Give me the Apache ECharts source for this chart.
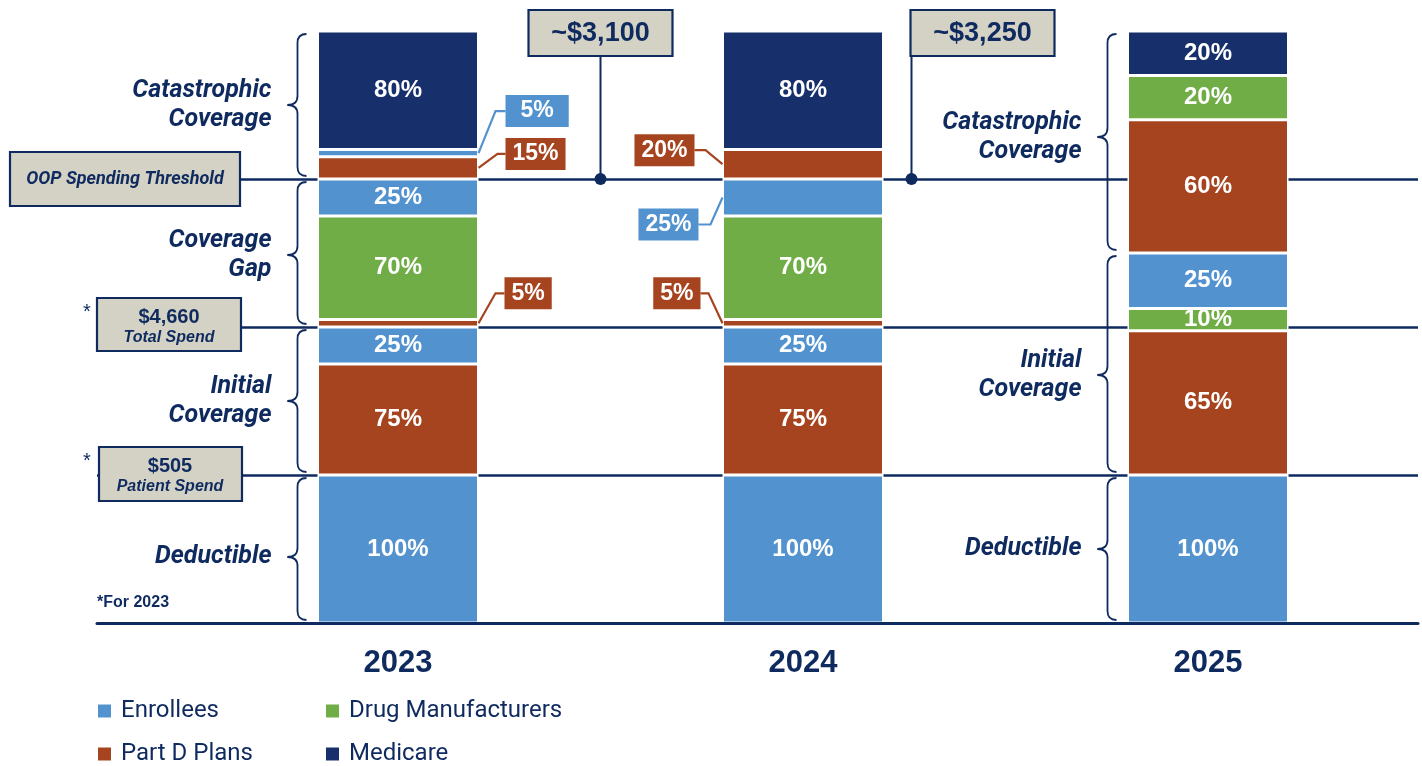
<!DOCTYPE html>
<html><head><meta charset="utf-8">
<script src="https://cdn.jsdelivr.net/npm/echarts@6/dist/echarts.min.js"></script>
<style>html,body{margin:0;padding:0;background:#fff}#chart{width:1422px;height:766px}</style>
</head><body><div id="chart"></div>
<script>
// ---------------- data ----------------
const years = ['2023', '2024', '2025'];
const payers = ['Enrollees', 'Drug Manufacturers', 'Part D Plans', 'Medicare'];
const phases = ['Deductible', 'Initial Coverage', 'Coverage Gap', 'Catastrophic Coverage'];

// segments listed bottom -> top
const payer2023 = ['Enrollees', 'Part D Plans', 'Enrollees', 'Part D Plans', 'Drug Manufacturers', 'Enrollees', 'Part D Plans', 'Enrollees', 'Medicare'];
const share2023 = [100, 75, 25, 5, 70, 25, 15, 5, 80];
const phase2023 = ['Deductible', 'Initial Coverage', 'Initial Coverage', 'Coverage Gap', 'Coverage Gap', 'Coverage Gap', 'Catastrophic Coverage', 'Catastrophic Coverage', 'Catastrophic Coverage'];

const payer2024 = ['Enrollees', 'Part D Plans', 'Enrollees', 'Part D Plans', 'Drug Manufacturers', 'Enrollees', 'Part D Plans', 'Medicare'];
const share2024 = [100, 75, 25, 5, 70, 25, 20, 80];
const phase2024 = ['Deductible', 'Initial Coverage', 'Initial Coverage', 'Coverage Gap', 'Coverage Gap', 'Coverage Gap', 'Catastrophic Coverage', 'Catastrophic Coverage'];

const payer2025 = ['Enrollees', 'Part D Plans', 'Drug Manufacturers', 'Enrollees', 'Part D Plans', 'Drug Manufacturers', 'Medicare'];
const share2025 = [100, 65, 10, 25, 60, 20, 20];
const phase2025 = ['Deductible', 'Initial Coverage', 'Initial Coverage', 'Initial Coverage', 'Catastrophic Coverage', 'Catastrophic Coverage', 'Catastrophic Coverage'];

// relative drawn height of each phase (order of `phases`; Deductible = 1)
const phaseSpan2023 = [1, 1, 1, 1];
const phaseSpan2024 = [1, 1, 1, 1];
const phaseSpan2025 = [1, 1.5, 0, 1.5];

const thresholdNotes = ['~$3,100', '~$3,250'];
const thresholdLabel = 'OOP Spending Threshold';
const totalSpendNote = ['$4,660', 'Total Spend'];
const patientSpendNote = ['$505', 'Patient Spend'];
const footNote = '*For 2023';

// ---------------- styles ----------------
const NAVY = '#0E2A5F';
const BOX_FILL = '#D4D2C5';
const payerColor = {
  'Enrollees': '#5293CF',
  'Drug Manufacturers': '#71AD47',
  'Part D Plans': '#A6441F',
  'Medicare': '#172F6B'
};
const BAR_W = 161;
const X_MIN = 0.25679, X_MAX = 3.51852;
const NUM_FONT = '"Liberation Sans", Arial, sans-serif';
const TXT_FONT = 'Roboto, "Noto Sans", sans-serif';

// callout labels (key: yearIndex-segmentIndex)
const callouts = {
  '0-7': { side: 'right', gap: 27, dy: -42, bend: 17, padding: [5, 15, 4, 15] },
  '0-6': { side: 'right', gap: 27, dy: -14, bend: 19 },
  '0-3': { side: 'right', gap: 26, dy: -30, bend: 17 },
  '1-6': { side: 'left', gap: 28, dy: -14, bend: 17 },
  '1-5': { side: 'left', gap: 24, dy: 27, bend: 12 },
  '1-3': { side: 'left', gap: 22, dy: -30, bend: 14 }
};
const showBraces = [true, false, true];
const phaseNudge = [[8, 0, 2, 0], null, [0, 11, 0, -5]];
const legendPos = { 'Enrollees': [98, 699], 'Drug Manufacturers': [326, 699], 'Part D Plans': [98, 742], 'Medicare': [326, 742] };

const yearSegs = [
  { payer: payer2023, share: share2023, phase: phase2023, span: phaseSpan2023 },
  { payer: payer2024, share: share2024, phase: phase2024, span: phaseSpan2024 },
  { payer: payer2025, share: share2025, phase: phase2025, span: phaseSpan2025 }
];
function segValue(s, k) { return s.share[k] * s.span[phases.indexOf(s.phase[k])]; }
const nLayers = Math.max(...yearSegs.map(s => s.share.length));

const series = [];
for (let k = 0; k < nLayers; k++) {
  series.push({
    type: 'bar', stack: 'total', barWidth: BAR_W, z: 2, silent: true,
    encode: { x: 1, y: 0 },
    itemStyle: { borderColor: '#fff', borderWidth: 1.5 },
    label: {
      show: true, position: 'inside', color: '#fff', fontFamily: NUM_FONT,
      fontWeight: 'bold', fontSize: 24, formatter: p => p.data.share + '%'
    },
    labelLayout: p => {
      const co = callouts[p.dataIndex + '-' + k];
      if (!co) return {};
      const r = p.rect;
      const cy = r.y + r.height / 2 + co.dy;
      return co.side === 'right'
        ? { x: r.x + r.width + co.gap, y: cy, align: 'left', verticalAlign: 'middle' }
        : { x: r.x - co.gap, y: cy, align: 'right', verticalAlign: 'middle' };
    },
    data: yearSegs.map((s, i) => {
      if (k >= s.share.length) return { value: ['-', i + 1] };
      const col = payerColor[s.payer[k]];
      const item = { value: [segValue(s, k), i + 1], share: s.share[k], itemStyle: { color: col } };
      const co = callouts[i + '-' + k];
      if (co) {
        item.label = {
          position: co.side, backgroundColor: col, padding: co.padding || [5, 7, 4, 7], fontSize: 23,
          borderColor: 'rgba(255,255,255,0.6)', borderWidth: 1
        };
      }
      return item;
    })
  });
}
// legend carriers
payers.forEach(n => series.push({ type: 'bar', name: n, stack: 'total', barWidth: BAR_W, encode: { x: 1, y: 0 }, data: [], itemStyle: { color: payerColor[n] } }));

// phase boundary lines (from 2023 phases)
const boundaries = [];
{ let acc = 0; phaseSpan2023.forEach((sp, j) => { acc += 100 * sp; if (j < phases.length - 1) boundaries.push(acc); }); }
series.push({
  type: 'line', data: [], z: 1, silent: true,
  markLine: {
    z: 1, silent: true, symbol: ['none', 'none'], label: { show: false },
    lineStyle: { color: NAVY, width: 2.5, type: 'solid' },
    emphasis: { disabled: true },
    data: boundaries.map(v => ({ yAxis: v }))
  }
});

const legends = payers.map(n => ({
  data: [n], left: legendPos[n][0], top: legendPos[n][1], padding: 0, icon: 'rect', itemWidth: 13, itemHeight: 13,
  selectedMode: false, textStyle: { fontFamily: TXT_FONT, fontSize: 24, color: NAVY, padding: [0, 0, 0, 5] }
}));

const chart = echarts.init(document.getElementById('chart'));
chart.setOption({
  animation: false,
  grid: { left: 97, right: 4, top: 31, bottom: 143 },
  xAxis: {
    type: 'value', min: X_MIN, max: X_MAX, z: 5,
    axisLine: { show: true, lineStyle: { color: NAVY, width: 3 } },
    axisTick: { show: false }, splitLine: { show: false },
    axisLabel: {
      customValues: [1, 2, 3], formatter: v => years[Math.round(v) - 1] || '',
      color: NAVY, fontFamily: NUM_FONT, fontWeight: 'bold', fontSize: 31, margin: 25
    }
  },
  yAxis: { type: 'value', min: 0, max: 400, show: false },
  legend: legends,
  series
});

// ---------------- annotations positioned through the axes ----------------
const toPx = (x, v) => chart.convertToPixel({ gridIndex: 0 }, [x, v]);
const barEdges = years.map((y, i) => { const xc = toPx(i + 1, 0)[0]; return [xc - BAR_W / 2, xc + BAR_W / 2]; });
const g = [];
function txt(text, x, y, font, align, extra) {
  return { type: 'text', z: 20, silent: true, style: Object.assign({ text, x, y, font, fill: NAVY, align: align || 'center', verticalAlign: 'middle', textAlign: align || 'center', textVerticalAlign: 'middle' }, extra || {}) };
}
function box(x, y, w, h) {
  return { type: 'rect', z: 15, silent: true, shape: { x, y, width: w, height: h }, style: { fill: BOX_FILL, stroke: NAVY, lineWidth: 2.2 } };
}
function brace(xTip, yTop, yBot, yMid) {
  const xs = xTip + 10, xe = xTip + 19, r = 9;
  const st = { stroke: NAVY, fill: null, lineWidth: 1.8 };
  const mk = (type, shape) => ({ type, z: 12, silent: true, shape, style: st });
  return [
    mk('bezierCurve', { x1: xe, y1: yTop, cpx1: xs, cpy1: yTop, x2: xs, y2: yTop + r }),
    mk('line', { x1: xs, y1: yTop + r, x2: xs, y2: yMid - r }),
    mk('bezierCurve', { x1: xs, y1: yMid - r, cpx1: xs, cpy1: yMid, x2: xTip, y2: yMid }),
    mk('bezierCurve', { x1: xTip, y1: yMid, cpx1: xs, cpy1: yMid, x2: xs, y2: yMid + r }),
    mk('line', { x1: xs, y1: yMid + r, x2: xs, y2: yBot - r }),
    mk('bezierCurve', { x1: xs, y1: yBot - r, cpx1: xs, cpy1: yBot, x2: xe, y2: yBot })
  ];
}

// braces and phase labels
yearSegs.forEach((s, i) => {
  if (!showBraces[i]) return;
  const left = barEdges[i][0];
  let acc = 0;
  phases.forEach((ph, j) => {
    const sp = s.span[j];
    if (!sp) return;
    const b = acc, t = acc + 100 * sp; acc = t;
    const yB = toPx(i + 1, b)[1] - 3, yT = toPx(i + 1, t)[1] + 3;
    const yM = toPx(i + 1, (b + t) / 2)[1] + (phaseNudge[i] ? phaseNudge[i][j] : 0);
    g.push(...brace(left - 30, yT, yB, yM));
    g.push(txt(ph.replace(' ', '\n'), left - 46, yM, 'italic bold 25px ' + TXT_FONT, 'right', { lineHeight: 29 }));
  });
});

// callout leader lines
Object.keys(callouts).forEach(key => {
  const [i, k] = key.split('-').map(Number);
  const s = yearSegs[i];
  let b = 0; for (let q = 0; q < k; q++) b += segValue(s, q);
  const t = b + segValue(s, k);
  const co = callouts[key];
  const segY = toPx(i + 1, (b + t) / 2)[1];
  const sign = co.side === 'right' ? 1 : -1;
  const edge = co.side === 'right' ? barEdges[i][1] : barEdges[i][0];
  g.push({ type: 'polyline', z: 10, silent: true,
    shape: { points: [[edge, segY], [edge + sign * co.bend, segY + co.dy], [edge + sign * co.gap, segY + co.dy]] },
    style: { stroke: payerColor[s.payer[k]], lineWidth: 2.2, fill: null } });
});

// threshold notes
const yThr = toPx(1, boundaries[2])[1];
const dotX = [toPx(1.5, 0)[0], barEdges[1][1] + 28];
const boxX = [dotX[0] - 72, dotX[1] - 1];
thresholdNotes.forEach((t, n) => {
  g.push({ type: 'line', z: 14, silent: true, shape: { x1: dotX[n], y1: 56, x2: dotX[n], y2: yThr }, style: { stroke: NAVY, lineWidth: 2 } });
  g.push({ type: 'circle', z: 14, silent: true, shape: { cx: dotX[n], cy: yThr, r: 6 }, style: { fill: NAVY } });
  g.push(box(boxX[n], 10, 144, 46));
  g.push(txt(t, boxX[n] + 72, 34, 'bold 27px ' + NUM_FONT));
});

// left boxes
g.push(box(10, yThr - 27, 230, 54));
g.push(txt(thresholdLabel, 125, yThr, 'italic bold 18px ' + TXT_FONT));
const y200 = toPx(1, boundaries[1])[1] - 2;
g.push(box(97, y200 - 27, 144, 53));
g.push(txt(totalSpendNote[0], 169, y200 - 8, 'bold 20px ' + NUM_FONT));
g.push(txt(totalSpendNote[1], 169, y200 + 13, 'italic bold 16px ' + NUM_FONT));
const y100 = toPx(1, boundaries[0])[1] - 1;
g.push(box(99, y100 - 27, 143, 54));
g.push(txt(patientSpendNote[0], 170, y100 - 8, 'bold 20px ' + NUM_FONT));
g.push(txt(patientSpendNote[1], 170, y100 + 13, 'italic bold 16px ' + NUM_FONT));
g.push(txt('*', 87, y200 - 13, '20px ' + NUM_FONT));
g.push(txt('*', 87, y100 - 13, '20px ' + NUM_FONT));
g.push(txt(footNote, 97, toPx(1, 0)[1] - 20, 'bold 16px ' + NUM_FONT, 'left'));

chart.setOption({ graphic: { elements: g } });
</script></body></html>
